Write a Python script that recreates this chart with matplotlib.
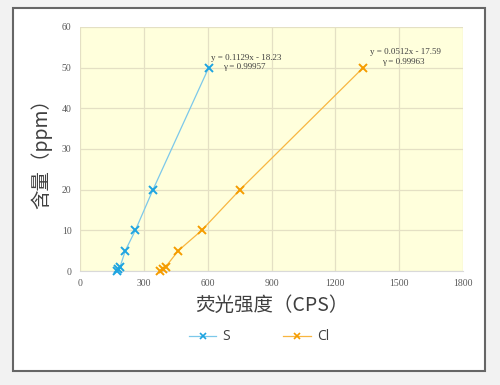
import matplotlib
matplotlib.use("Agg")
import matplotlib.pyplot as plt
from matplotlib.patches import Rectangle
from matplotlib.lines import Line2D

# data
s_cps = [172, 180, 188, 213, 260, 343, 605]
s_ppm = [0, 0.5, 1, 5, 10, 20, 50]
cl_cps = [376, 391, 402, 462, 572, 752, 1331]
cl_ppm = [0, 0.5, 1, 5, 10, 20, 50]

s_fit = "y = 0.1129x - 18.23"
s_r = "γ = 0.99957"
cl_fit = "y = 0.0512x - 17.59"
cl_r = "γ = 0.99963"

x_ticks = [0, 300, 600, 900, 1200, 1500, 1800]
y_ticks = [0, 10, 20, 30, 40, 50, 60]

cjk = ["Noto Sans CJK SC", "DejaVu Sans"]
serif = "Liberation Serif"

fig = plt.figure(figsize=(5, 3.85), dpi=100, facecolor="#f2f2f2")
fig.patches.append(Rectangle((0.026, 0.036), 0.944, 0.943, transform=fig.transFigure,
                             facecolor="white", edgecolor="#666666", linewidth=1.5, zorder=-10))

ax = fig.add_axes([0.16, 0.296, 0.766, 0.634])
ax.set_facecolor("#ffffdc")
ax.plot(s_cps, s_ppm, color="#7cc8ea", lw=0.9, marker="x", ms=6, mew=1.4,
        mec="#1ea4e0", label="S", zorder=3, clip_on=False)
ax.plot(cl_cps, cl_ppm, color="#f8b640", lw=0.9, marker="x", ms=6, mew=1.4,
        mec="#f59c00", label="Cl", zorder=3, clip_on=False)

ax.set_xlim(0, 1800)
ax.set_ylim(0, 60)
ax.set_xticks(x_ticks)
ax.set_yticks(y_ticks)
ax.grid(True, color="#e4e0c4", lw=0.9)
ax.set_axisbelow(True)
ax.tick_params(length=0, labelsize=7, labelcolor="#595959", pad=6)
for lab in ax.get_xticklabels() + ax.get_yticklabels():
    lab.set_family(serif)
for side in ["top", "right", "left"]:
    ax.spines[side].set_visible(False)
ax.spines["bottom"].set_color("#d9d9d9")

ax.text(s_cps[-1] + 12, 51.5, s_fit, fontsize=6.5, family=serif, color="#404040", va="bottom")
ax.text(s_cps[-1] + 68, 49.2, s_r, fontsize=6.5, family=serif, color="#404040", va="bottom")
ax.text(cl_cps[-1] + 30, 52.8, cl_fit, fontsize=6.5, family=serif, color="#404040", va="bottom")
ax.text(cl_cps[-1] + 90, 50.3, cl_r, fontsize=6.5, family=serif, color="#404040", va="bottom")

ax.set_xlabel("荧光强度（CPS）", family=cjk, fontsize=14, color="#404040", labelpad=5)
ax.set_ylabel("含量（ppm）", family=cjk, fontsize=14, color="#404040", labelpad=7)

handles = [Line2D([], [], color="#7cc8ea", lw=0.9, marker="x", ms=4, mew=1.2, mec="#1ea4e0"),
           Line2D([], [], color="#f8b640", lw=0.9, marker="x", ms=4, mew=1.2, mec="#f59c00")]
fig.legend(handles, ["S", "Cl"], loc="center", bbox_to_anchor=(0.518, 0.125), ncol=2,
           frameon=False, prop={"family": "Open Sans", "size": 10}, labelcolor="#404040",
           handlelength=2.0, columnspacing=3.8, handletextpad=0.45)

fig.savefig("out.png", dpi=100, facecolor=fig.get_facecolor())
